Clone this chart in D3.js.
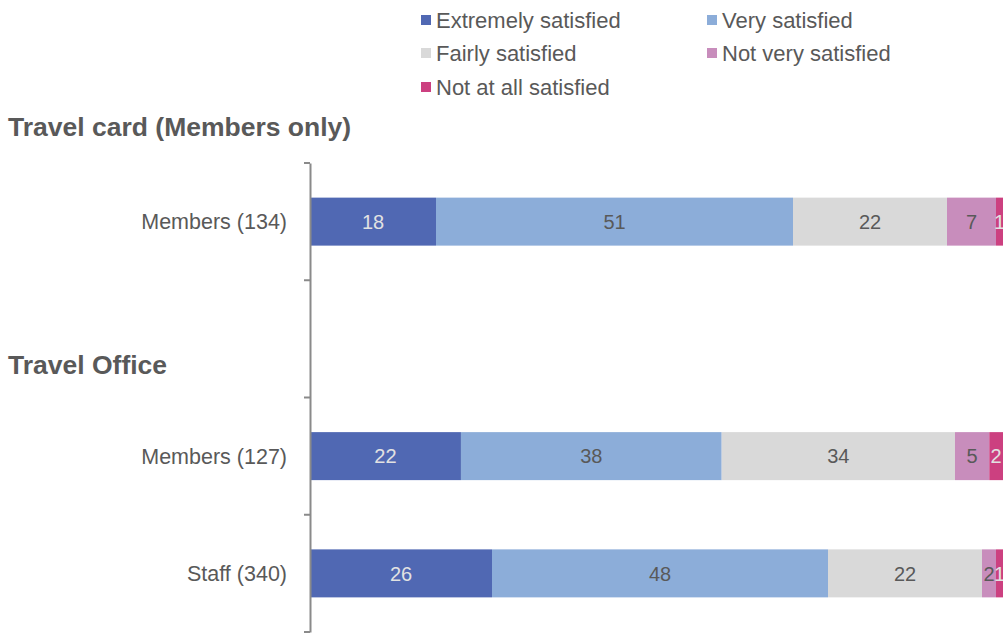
<!DOCTYPE html>
<html>
<head>
<meta charset="utf-8">
<script src="https://cdn.jsdelivr.net/npm/d3@7"></script>
<style>
  html, body { margin: 0; padding: 0; background: #fff; overflow: hidden; }
  svg { display: block; font-family: "Liberation Sans", Arial, sans-serif; }
</style>
</head>
<body>
<svg id="chart" width="1003" height="633"></svg>
<script>
// Satisfaction ratings (%), one row per respondent group
const series = ["Extremely satisfied", "Very satisfied", "Fairly satisfied", "Not very satisfied", "Not at all satisfied"];
const colors = ["#5068B3", "#8CADD9", "#D9D9D9", "#C88DBC", "#CC4080"];
const labelColors = ["#E2E2E2", "#595959", "#595959", "#595959", "#E2E2E2"];

// Axis categories; the blank slot holds the "Travel Office" section heading
const categories = ["Members (134)", "", "Members (127)", "Staff (340)"];

const extremely = [18, null, 22, 26];
const very      = [51, null, 38, 48];
const fairly    = [22, null, 34, 22];
const notVery   = [7,  null, 5,  2];
const notAtAll  = [1,  null, 2,  1];

const sections = [
  { title: "Travel card (Members only)", y: 126 },
  { title: "Travel Office", y: 364 }
];

const svg = d3.select("#chart");
const plotLeft = 310, plotRight = 1003, plotTop = 163, plotBottom = 632;

// 100% stacked: each row is shown as shares of its own total
const x = d3.scaleLinear().domain([0, 1]).range([plotLeft, plotRight]);
const y = d3.scaleBand().domain(categories.map((c, i) => i)).range([plotTop, plotBottom]).padding(0);
const barH = 48;

const valueCols = [extremely, very, fairly, notVery, notAtAll];
const rows = categories.map((c, i) => {
  const r = { i, name: c };
  series.forEach((s, j) => r[s] = valueCols[j][i]);
  return r;
}).filter(r => r[series[0]] != null);

const stack = d3.stack().keys(series).offset(d3.stackOffsetExpand)(rows);

// Bars with centred value labels
stack.forEach((layer, j) => {
  const key = series[j];
  const g = svg.append("g");
  g.selectAll("rect").data(layer).join("rect")
    .attr("x", d => x(d[0]))
    .attr("y", d => y(d.data.i) + y.bandwidth() / 2 - barH / 2)
    .attr("width", d => x(d[1]) - x(d[0]))
    .attr("height", barH)
    .attr("fill", colors[j]);
  g.selectAll("text").data(layer).join("text")
    .attr("x", d => (x(d[0]) + x(d[1])) / 2)
    .attr("y", d => y(d.data.i) + y.bandwidth() / 2)
    .attr("dy", "0.36em")
    .attr("text-anchor", "middle")
    .attr("font-size", 20)
    .attr("fill", labelColors[j])
    .text(d => d.data[key]);
});

// Category axis
const axis = d3.axisLeft(y).tickValues([]).tickSizeOuter(0);
const ax = svg.append("g").attr("transform", `translate(${plotLeft},0)`).call(axis);
ax.select(".domain").attr("stroke", "#8A8A8A").attr("stroke-width", 2);
// tick marks sit on the band boundaries
const boundaries = categories.map((c, i) => y(i)).concat([plotBottom]);
ax.selectAll(".bnd").data(boundaries).join("line")
  .attr("class", "bnd")
  .attr("x1", -6).attr("x2", 0)
  .attr("y1", d => d).attr("y2", d => d)
  .attr("stroke", "#8A8A8A").attr("stroke-width", 2);
ax.selectAll(".cat").data(categories).join("text")
  .attr("class", "cat")
  .attr("x", -23)
  .attr("y", (d, i) => y(i) + y.bandwidth() / 2)
  .attr("dy", "0.36em")
  .attr("text-anchor", "end")
  .attr("font-size", 21.5)
  .attr("fill", "#595959")
  .text(d => d);

// Section headings
svg.selectAll(".sec").data(sections).join("text")
  .attr("class", "sec")
  .attr("x", 8).attr("y", d => d.y)
  .attr("dy", "0.36em")
  .attr("font-size", 26.5)
  .attr("font-weight", "bold")
  .attr("fill", "#595959")
  .text(d => d.title);

// Legend
const legendPos = [[421, 20], [707, 20], [421, 53], [707, 53], [421, 87]];
const lg = svg.append("g");
series.forEach((s, j) => {
  const [lx, ly] = legendPos[j];
  lg.append("rect").attr("x", lx).attr("y", ly - 5).attr("width", 10).attr("height", 10).attr("fill", colors[j]);
  lg.append("text").attr("x", lx + 15).attr("y", ly).attr("dy", "0.36em")
    .attr("font-size", 22).attr("fill", "#595959").text(s);
});
</script>
</body>
</html>
